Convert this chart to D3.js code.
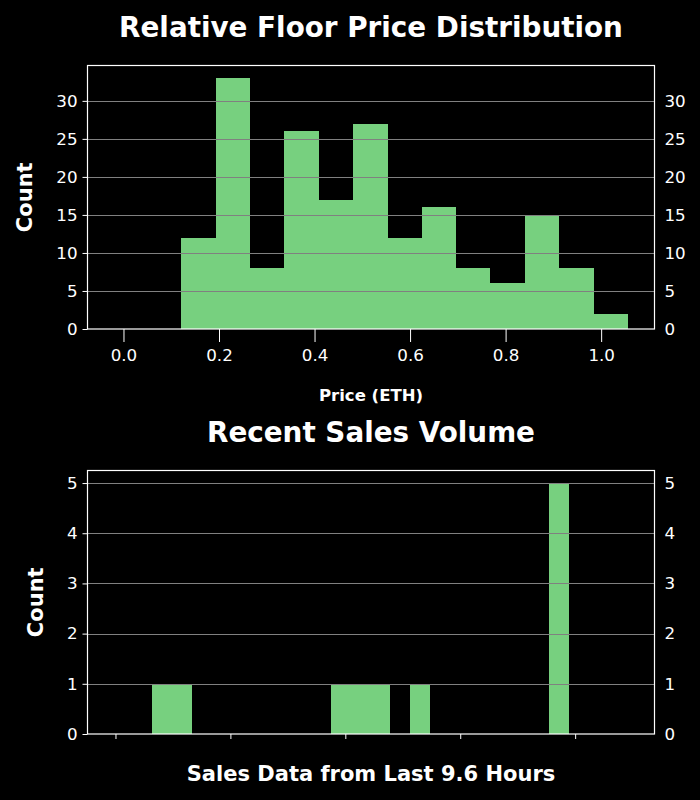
<!DOCTYPE html>
<html>
<head>
<meta charset="utf-8">
<script src="https://cdn.jsdelivr.net/npm/d3@7"></script>
<style>
  html, body { margin: 0; padding: 0; background: #000; }
  svg { display: block; font-family: "DejaVu Sans", sans-serif; }
</style>
</head>
<body>
<div id="chart"></div>
<script>
// floor price histogram (ETH)
const priceEdges = [0.121, 0.193, 0.265, 0.337, 0.409, 0.481, 0.553, 0.625, 0.697, 0.768, 0.840, 0.912, 0.984, 1.056];
const priceCounts = [12, 33, 8, 26, 17, 27, 12, 16, 8, 6, 15, 8, 2];
const priceTicks = [0.0, 0.2, 0.4, 0.6, 0.8, 1.0];
const priceCountTicks = [0, 5, 10, 15, 20, 25, 30];

// recent sales histogram (hours)
const salesEdges = [0.638, 0.983, 1.329, 1.674, 2.019, 2.365, 2.710, 3.055, 3.401, 3.746, 4.091,
  4.436, 4.782, 5.127, 5.472, 5.818, 6.163, 6.508, 6.854, 7.199, 7.544, 7.890];
const salesCounts = [1, 1, 0, 0, 0, 0, 0, 0, 0, 1, 1, 1, 0, 1, 0, 0, 0, 0, 0, 0, 5];
const salesTicks = [0, 2, 4, 6, 8];
const salesCountTicks = [0, 1, 2, 3, 4, 5];

const W = 700, H = 800;
const barColor = "#77d07f";
const gridColor = "#808080";

const svg = d3.select("#chart").append("svg")
  .attr("width", W).attr("height", H);

svg.append("rect").attr("width", W).attr("height", H).attr("fill", "#000");

function drawHist(cfg) {
  const x = d3.scaleLinear().domain(cfg.xDomain).range([cfg.left, cfg.right]);
  const y = d3.scaleLinear().domain(cfg.yDomain).range([cfg.bottom, cfg.top]);

  const g = svg.append("g");

  const bins = cfg.counts.map((c, i) => ({ x0: cfg.edges[i], x1: cfg.edges[i + 1], c: c }))
    .filter(d => d.c > 0);

  g.selectAll("rect.bar")
    .data(bins)
    .join("rect")
      .attr("class", "bar")
      .attr("x", d => x(d.x0))
      .attr("width", d => x(d.x1) - x(d.x0))
      .attr("y", d => y(d.c))
      .attr("height", d => y(0) - y(d.c))
      .attr("fill", barColor)
      .attr("shape-rendering", "crispEdges");

  // grid on top of bars
  g.selectAll("line.grid")
    .data(cfg.yTicks.filter(t => t > 0))
    .join("line")
      .attr("class", "grid")
      .attr("x1", cfg.left).attr("x2", cfg.right)
      .attr("y1", d => Math.round(y(d)) + 0.5).attr("y2", d => Math.round(y(d)) + 0.5)
      .attr("stroke", gridColor).attr("stroke-width", 1);

  // left axis
  const yl = d3.axisLeft(y).tickValues(cfg.yTicks).tickSize(5).tickPadding(5).tickFormat(d3.format("d"));
  const gl = g.append("g").attr("transform", `translate(${cfg.left},0)`).call(yl);
  // right labels (no ticks)
  const yr = d3.axisRight(y).tickValues(cfg.yTicks).tickSize(0).tickPadding(10).tickFormat(d3.format("d"));
  const gr = g.append("g").attr("transform", `translate(${cfg.right},0)`).call(yr);

  // bottom axis
  const xa = d3.axisBottom(x).tickValues(cfg.xTicks).tickSize(cfg.xTickLen).tickPadding(cfg.xTickPad)
    .tickFormat(cfg.xFormat);
  const gb = g.append("g").attr("transform", `translate(0,${cfg.bottom})`).call(xa);

  [gl, gr, gb].forEach(a => {
    a.select(".domain").remove();
    a.selectAll("line").attr("stroke", "#fff");
    a.selectAll("text").attr("fill", "#fff").style("font-size", "16.7px")
      .style("font-family", "DejaVu Sans, sans-serif");
  });

  // frame
  g.append("rect")
    .attr("x", cfg.left).attr("y", cfg.top)
    .attr("width", cfg.right - cfg.left).attr("height", cfg.bottom - cfg.top)
    .attr("fill", "none").attr("stroke", "#fff").attr("stroke-width", 1.2);

  // title
  g.append("text")
    .attr("x", (cfg.left + cfg.right) / 2).attr("y", cfg.titleY)
    .attr("text-anchor", "middle").attr("fill", "#fff")
    .style("font-size", "27.8px").style("font-weight", "bold")
    .text(cfg.title);

  // x label
  g.append("text")
    .attr("x", (cfg.left + cfg.right) / 2).attr("y", cfg.xLabelY)
    .attr("text-anchor", "middle").attr("fill", "#fff")
    .style("font-size", cfg.xLabelSize).style("font-weight", "bold")
    .text(cfg.xLabel);

  // y label
  g.append("text")
    .attr("transform", `translate(${cfg.yLabelX},${(cfg.top + cfg.bottom) / 2}) rotate(-90)`)
    .attr("text-anchor", "middle").attr("fill", "#fff")
    .style("font-size", "21px").style("font-weight", "bold")
    .text("Count");
}

drawHist({
  edges: priceEdges, counts: priceCounts,
  xDomain: [-0.0753, 1.1117], yDomain: [0, 34.65],
  xTicks: priceTicks, yTicks: priceCountTicks,
  xFormat: d3.format(".1f"), xTickLen: 13, xTickPad: 7,
  left: 87.5, right: 654.5, top: 65.5, bottom: 329,
  title: "Relative Floor Price Distribution", titleY: 37,
  xLabel: "Price (ETH)", xLabelY: 401, xLabelSize: "16.5px",
  yLabelX: 32
});

drawHist({
  edges: salesEdges, counts: salesCounts,
  xDomain: [-0.487, 9.381], yDomain: [0, 5.25],
  xTicks: salesTicks, yTicks: salesCountTicks,
  xFormat: () => "", xTickLen: 5, xTickPad: 4,
  left: 87.5, right: 654.5, top: 470.5, bottom: 734,
  title: "Recent Sales Volume", titleY: 442,
  xLabel: "Sales Data from Last 9.6 Hours", xLabelY: 781, xLabelSize: "21px",
  yLabelX: 42.5
});
</script>
</body>
</html>
